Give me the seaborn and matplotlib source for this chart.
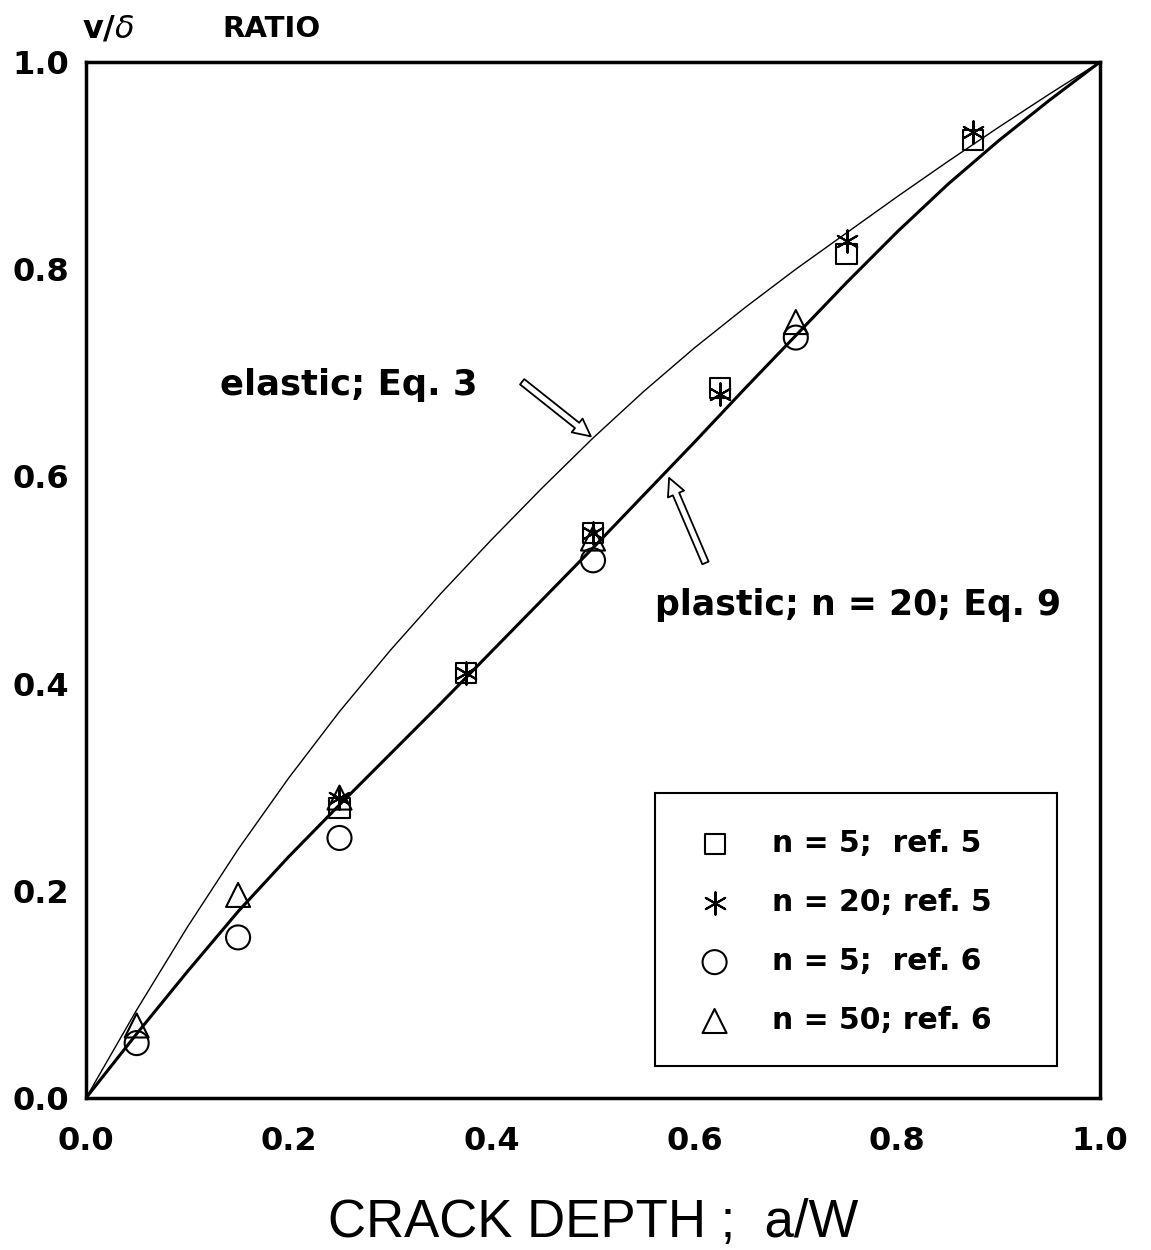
import numpy as np
import pandas as pd
import matplotlib
matplotlib.use('Agg')
import matplotlib.pyplot as plt
from matplotlib.patches import Rectangle
import seaborn as sns

# curves: elastic (Eq. 3) and plastic n=20 (Eq. 9)
elastic_a = [0, 0.05, 0.1, 0.15, 0.2, 0.25, 0.3, 0.35, 0.4, 0.45, 0.5,
             0.55, 0.6, 0.65, 0.7, 0.75, 0.8, 0.85, 0.9, 0.95, 1.0]
elastic_v = [0, 0.085, 0.165, 0.240, 0.309, 0.373, 0.432, 0.487, 0.539, 0.589, 0.637,
             0.682, 0.724, 0.763, 0.800, 0.835, 0.870, 0.904, 0.937, 0.969, 1.0]

plastic_a = [0, 0.05, 0.1, 0.15, 0.2, 0.25, 0.3, 0.35, 0.4, 0.45, 0.5,
             0.55, 0.6, 0.65, 0.7, 0.75, 0.8, 0.85, 0.9, 0.95, 1.0]
plastic_v = [0, 0.062, 0.122, 0.180, 0.233, 0.283, 0.332, 0.381, 0.431, 0.481, 0.531,
             0.582, 0.633, 0.685, 0.736, 0.787, 0.836, 0.882, 0.924, 0.963, 1.0]

# data points
sq_a = [0.25, 0.375, 0.5, 0.625, 0.75, 0.875]
sq_v = [0.28, 0.41, 0.545, 0.685, 0.815, 0.925]

st_a = [0.25, 0.375, 0.5, 0.625, 0.75, 0.875]
st_v = [0.29, 0.41, 0.545, 0.68, 0.827, 0.932]

ci_a = [0.05, 0.15, 0.25, 0.5, 0.7]
ci_v = [0.053, 0.155, 0.251, 0.519, 0.734]

tr_a = [0.05, 0.15, 0.25, 0.5, 0.7]
tr_v = [0.07, 0.196, 0.29, 0.54, 0.749]

legend_labels = ['n = 5;  ref. 5', 'n = 20; ref. 5', 'n = 5;  ref. 6', 'n = 50; ref. 6']

sns.set_style('white')
plt.rcParams['font.family'] = ['DejaVu Sans']
plt.rcParams['text.color'] = 'black'
plt.rcParams['axes.labelcolor'] = 'black'

fig = plt.figure(figsize=(11.51, 12.5), dpi=100)
ax = fig.add_axes([0.0747, 0.1216, 0.881, 0.8288])

sns.lineplot(x=elastic_a, y=elastic_v, ax=ax, color='black', linewidth=1.0)
sns.lineplot(x=plastic_a, y=plastic_v, ax=ax, color='black', linewidth=2.2)

ms = 260
sns.scatterplot(x=sq_a, y=sq_v, ax=ax, marker='s', s=ms * 0.8, facecolor='none',
                edgecolor='black', linewidth=1.5, label=legend_labels[0])
sns.scatterplot(x=st_a, y=st_v, ax=ax, marker=(6, 2, 0), s=ms, color='black',
                linewidth=1.5, label=legend_labels[1])
sns.scatterplot(x=ci_a, y=ci_v, ax=ax, marker='o', s=ms * 1.15, facecolor='none',
                edgecolor='black', linewidth=1.5, label=legend_labels[2])
sns.scatterplot(x=tr_a, y=tr_v, ax=ax, marker='^', s=ms * 1.15, facecolor='none',
                edgecolor='black', linewidth=1.5, label=legend_labels[3])

ax.set_xlim(0, 1)
ax.set_ylim(0, 1)
ax.set_xticks([0, 0.2, 0.4, 0.6, 0.8, 1.0])
ax.set_yticks([0, 0.2, 0.4, 0.6, 0.8, 1.0])
ax.set_xticklabels(['0.0', '0.2', '0.4', '0.6', '0.8', '1.0'])
ax.set_yticklabels(['0.0', '0.2', '0.4', '0.6', '0.8', '1.0'])
ax.tick_params(axis='both', direction='in', length=12, width=1.5, labelsize=23,
               colors='black')
ax.tick_params(axis='x', pad=20)
ax.tick_params(axis='y', pad=12)
for lab in ax.get_xticklabels() + ax.get_yticklabels():
    lab.set_fontweight('bold')
for sp in ax.spines.values():
    sp.set_linewidth(2.5)
    sp.set_color('black')

ax.set_xlabel('CRACK DEPTH ;  a/W', fontsize=38, labelpad=30,
              family='Liberation Sans')
ax.set_ylabel('')
fig.text(0.071, 0.977, r'v/$\delta$', fontsize=23, fontweight='bold',
         ha='left', va='center')
fig.text(0.193, 0.977, 'RATIO', fontsize=21, fontweight='bold',
         ha='left', va='center')

arrow_kw = dict(arrowstyle='simple,head_length=0.9,head_width=0.9,tail_width=0.35',
                fc='white', ec='black', lw=1.3, mutation_scale=14)
ax.annotate('', xy=(0.5, 0.637), xytext=(0.428, 0.693), arrowprops=arrow_kw)
ax.annotate('', xy=(0.574, 0.601), xytext=(0.612, 0.514), arrowprops=arrow_kw)
ax.text(0.132, 0.688, 'elastic; Eq. 3', fontsize=25.5, fontweight='bold',
        ha='left', va='center')
ax.text(0.561, 0.476, 'plastic; n = 20; Eq. 9', fontsize=25, fontweight='bold',
        ha='left', va='center')

# legend box
ax.add_patch(Rectangle((0.561, 0.031), 0.397, 0.263, transform=ax.transAxes,
                       fill=False, edgecolor='black', linewidth=1.5, zorder=3))
leg = ax.legend(loc='upper left', bbox_to_anchor=(0.561, 0.294), frameon=False,
                prop={'size': 21.5, 'weight': 'bold'},
                labelspacing=1.0, borderpad=1.2, handletextpad=1.13,
                borderaxespad=0, handlelength=1.6)

fig.savefig('out.png', dpi=100)
